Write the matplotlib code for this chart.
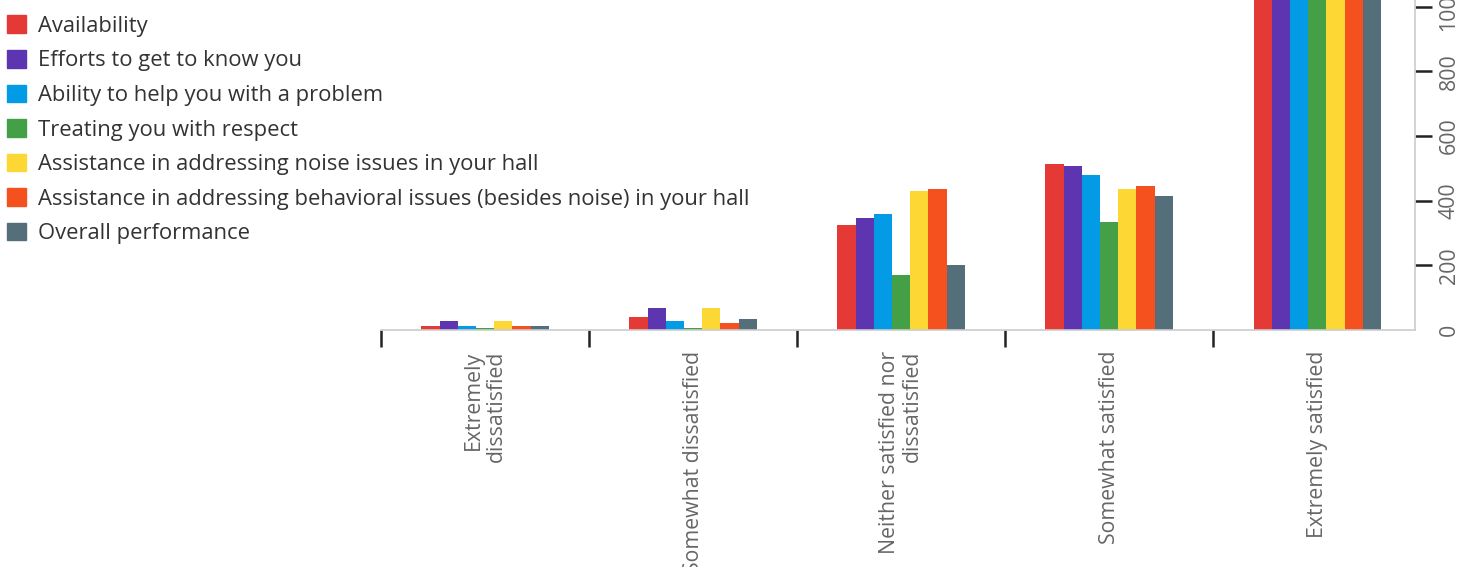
import numpy as np
import matplotlib
matplotlib.use("Agg")
import matplotlib.pyplot as plt
from matplotlib.patches import Patch

plt.rcParams['font.family'] = ['Open Sans', 'DejaVu Sans']

# categories on the x axis
categories = ["Extremely\ndissatisfied", "Somewhat dissatisfied",
              "Neither satisfied nor\ndissatisfied", "Somewhat satisfied",
              "Extremely satisfied"]

series_names = ["Availability", "Efforts to get to know you",
                "Ability to help you with a problem", "Treating you with respect",
                "Assistance in addressing noise issues in your hall",
                "Assistance in addressing behavioral issues (besides noise) in your hall",
                "Overall performance"]

# counts per category (last group runs off the top of the chart)
availability = [13, 41, 325, 513, 1450]
efforts = [27, 68, 345, 506, 1420]
ability = [13, 27, 360, 479, 1440]
respect = [6, 6, 171, 333, 1600]
noise = [27, 68, 431, 436, 1380]
behavioral = [13, 21, 436, 444, 1370]
overall = [13, 34, 200, 416, 1500]

colors = ["#E53935", "#5E35B1", "#039BE5", "#43A047", "#FDD835", "#F4511E", "#546E7A"]

yticks = [0, 200, 400, 600, 800, 1000]

data = [availability, efforts, ability, respect, noise, behavioral, overall]

W, H = 1469, 567
fig = plt.figure(figsize=(W / 100, H / 100), dpi=100)
ax = fig.add_axes([381 / W, 237 / H, (1415 - 381) / W, 330 / H])

x = np.arange(len(categories))
bw = 0.0875
for i, (vals, c) in enumerate(zip(data, colors)):
    ax.bar(x + (i - 3) * bw, vals, width=bw, color=c, linewidth=0)

ax.set_xlim(-0.5, 4.47)
ax.set_ylim(0, 1021)

for s in ["top", "left"]:
    ax.spines[s].set_visible(False)
ax.spines["bottom"].set_color("#cccccc")
ax.spines["right"].set_color("#cccccc")
ax.spines["bottom"].set_linewidth(1.2)
ax.spines["right"].set_linewidth(1.2)

# x ticks between groups, labels at group centers
ax.set_xticks(np.arange(-0.5, 4.5, 1.0))
ax.set_xticklabels([])
ax.tick_params(axis="x", direction="out", length=12, width=1.8, color="#222222")
ax.set_xticks(x, minor=True)
ax.set_xticklabels(categories, minor=True, rotation=90, color="#666666",
                   fontsize=15.3, va="top", ha="center", multialignment="right",
                   linespacing=1.15)
ax.tick_params(axis="x", which="minor", length=0, pad=15)

ax.yaxis.tick_right()
ax.set_yticks(yticks)
ax.set_yticklabels([str(v) for v in yticks], rotation=90, va="center",
                   color="#666666", fontsize=15.3)
ax.tick_params(axis="y", direction="out", length=12, width=1.8, color="#222222", pad=5)
for t in ax.yaxis.get_major_ticks()[:1]:
    t.tick2line.set_visible(False)

handles = [Patch(color=c, label=n) for c, n in zip(colors, series_names)]
fig.legend(handles=handles, loc="upper left", bbox_to_anchor=(-8 / W, 1.0),
           frameon=False, fontsize=15.8, handlelength=0.86, handleheight=0.86,
           handletextpad=0.55, labelspacing=0.6, borderaxespad=0.3,
           labelcolor="#333333")

fig.savefig("out.png", dpi=100)
